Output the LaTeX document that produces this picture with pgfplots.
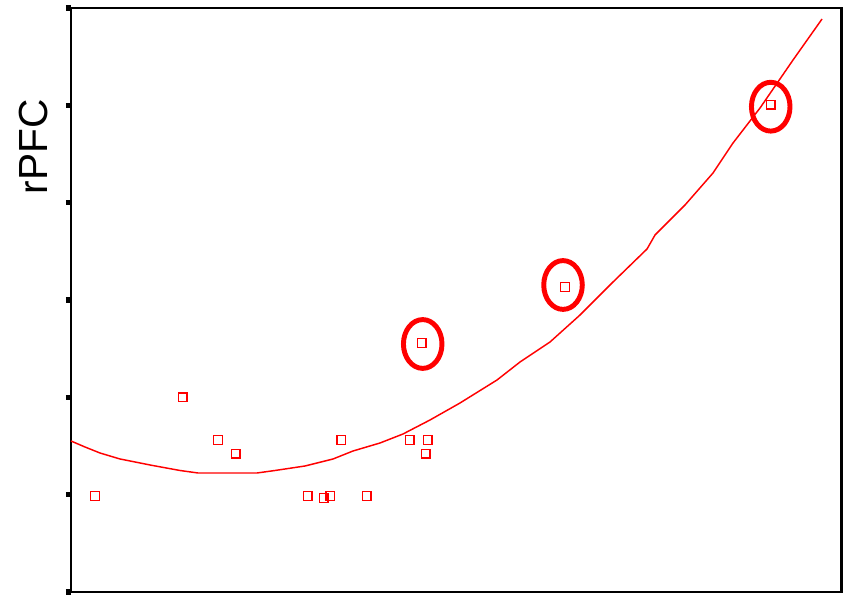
\documentclass[border=0pt]{standalone}
\usepackage{pgfplots}
\pgfplotsset{compat=1.18}
\usepackage{fontspec}
\setmainfont{Liberation Sans}
\begin{document}
\begin{tikzpicture}[x=1pt,y=1pt]
\useasboundingbox (0,0) rectangle (632.25,446.25);
\begin{axis}[
  at={(53.25pt,2.25pt)}, anchor=south west,
  scale only axis,
  width=577.9pt, height=438pt,
  xmin=71, xmax=841.5,
  ymin=8, ymax=592,
  axis line style={line width=2.2pt},
  xtick=\empty,
  ytick pos=left,
  ytick={8,105.33,202.67,300,397.33,494.67,592},
  yticklabels={},
  tick align=outside,
  major tick length=3.8pt,
  tick style={line width=3.8pt, black},
  every major tick/.append style={line width=3.8pt},
  ylabel={rPFC},
  ylabel style={font=\fontsize{30.5}{31}\selectfont, at={(axis cs:48,453)}, anchor=base, inner sep=0pt},
  clip=false,
]
% fitted curve
\addplot[red, line width=1.1pt, no marks] coordinates {
(71,159) (85,153) (100,147) (120,141) (150,135) (180,129.5) (198,127) (257,127)
(275,129.5) (305,134) (333,141) (353,149) (380,157) (403,166) (430,180) (460,197)
(497,220) (520,238) (550,258) (580,285) (613,318) (647,351) (655,365) (685,395)
(713,427) (733,457) (760,492) (793,540) (822,581)
};
% data points
\addplot[only marks, red, mark=square, mark size=3.2pt, mark options={line width=1pt}] coordinates {
(95,104) (182.7,202.7) (218,160) (235.7,146.3) (307.7,104) (323.7,102) (330.3,104)
(341.3,160) (366.7,104) (409.7,160) (427.7,160) (425.7,146.3)
(421.7,257) (565,313) (770.7,495.3)
};
% highlight ellipses
\addplot[only marks, red, mark=o, mark size=18.3pt, mark options={xscale=0.79, line width=3.7pt}] coordinates {
(422.7,256) (563,315) (770.7,493.3)
};
\end{axis}
\end{tikzpicture}
\end{document}
